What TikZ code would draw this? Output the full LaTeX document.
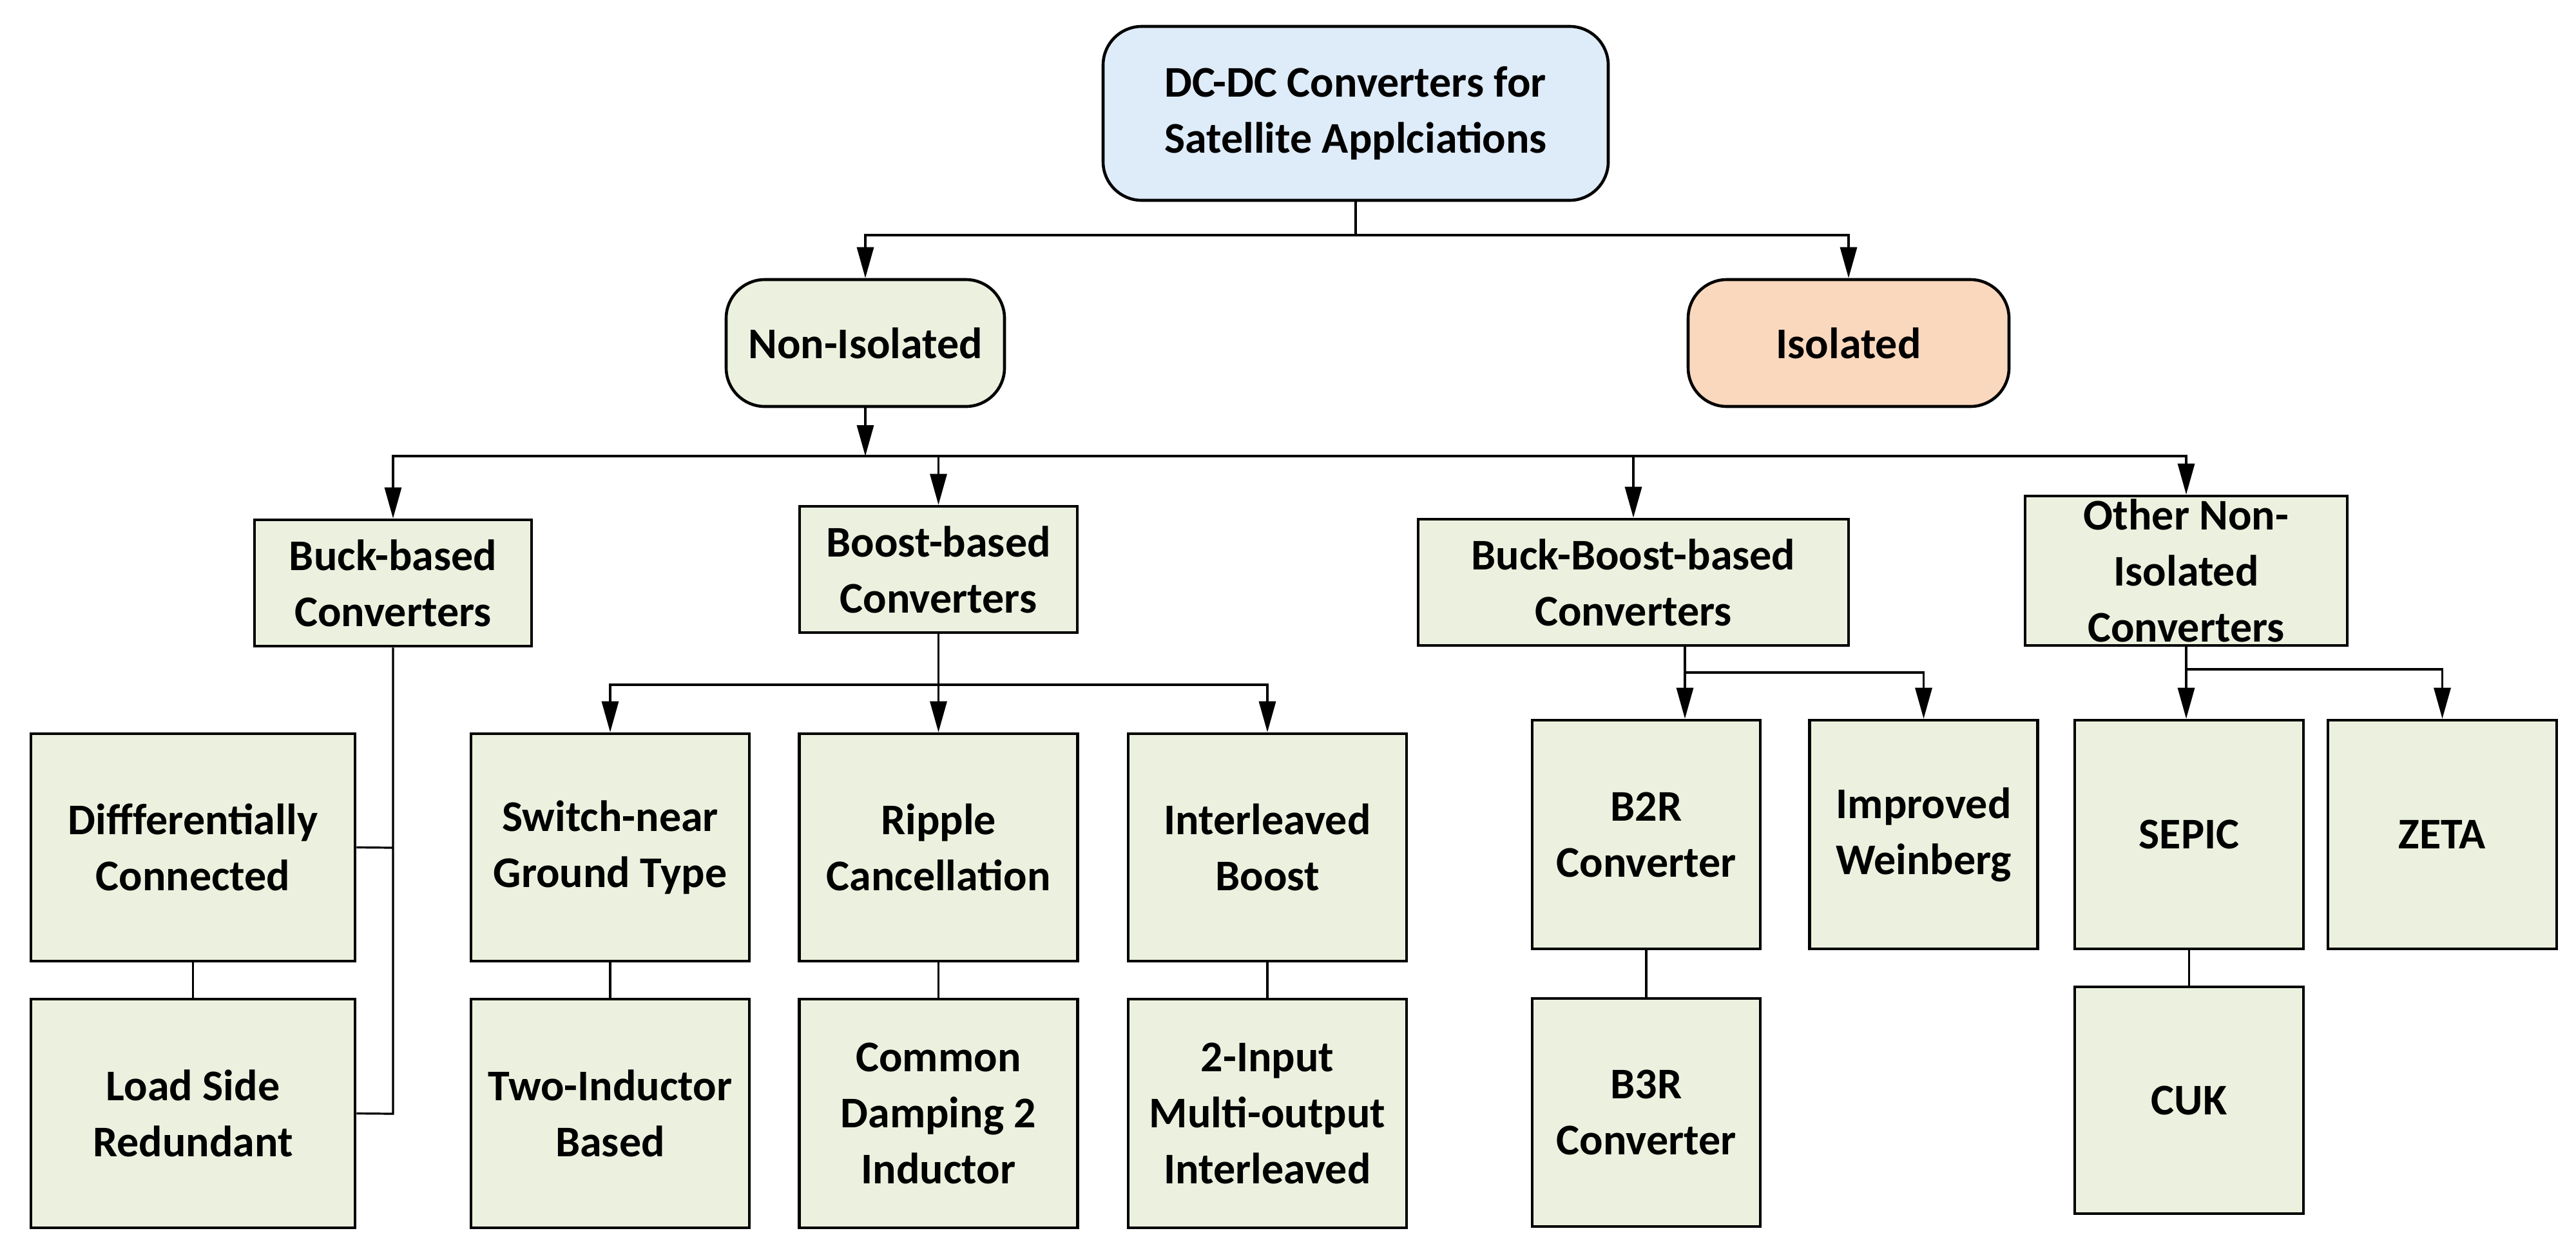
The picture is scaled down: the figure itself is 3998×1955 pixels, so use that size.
\documentclass[tikz,border=0pt]{standalone}
\usepackage{fontspec}
\setmainfont{Carlito}
\usetikzlibrary{arrows.meta}
\definecolor{gfill}{HTML}{EBF1DE}
\definecolor{bfill}{HTML}{DEEBF8}
\definecolor{pfill}{HTML}{FAD8BE}
\begin{document}
\begin{tikzpicture}[x=0.5pt,y=-0.5pt,
  box/.style={draw, line width=2.3pt, fill=gfill, align=center, inner sep=0pt,
    font=\fontsize{34}{43.5}\selectfont\bfseries},
  rbox/.style={box, rounded corners=30pt},
  con/.style={line width=1.6pt},
  arr/.style={con, -{Triangle[length=24pt,width=13pt]}}]
\useasboundingbox (0,0) rectangle (3998,1955);
% nodes
\node[rbox, fill=bfill, minimum width=392pt, minimum height=135pt] (root) at (2104,176) {DC-DC Converters for\\Satellite Applciations};
\node[rbox, minimum width=216pt, minimum height=98.5pt] (ni) at (1343,532.5) {Non-Isolated};
\node[rbox, fill=pfill, minimum width=249pt, minimum height=98.5pt] (iso) at (2869,532.5) {Isolated};
\node[box, minimum width=215pt, minimum height=98pt] (buck) at (610,905) {Buck-based\\Converters};
\node[box, minimum width=215.5pt, minimum height=98pt] (boost) at (1456.5,884) {Boost-based\\Converters};
\node[box, minimum width=334pt, minimum height=98pt] (bb) at (2535,904) {Buck-Boost-based\\Converters};
\node[box, minimum width=250pt, minimum height=116pt] (oth) at (3393,886) {Other Non-\\Isolated\\Converters};
\node[box, minimum width=251.5pt, minimum height=176.5pt] (diff) at (299.5,1315.5) {Diffferentially\\Connected};
\node[box, minimum width=251.5pt, minimum height=177.5pt] (load) at (299.5,1728.5) {Load Side\\Redundant};
\node[box, minimum width=216pt, minimum height=176.5pt] (sw) at (947,1315.5) {Switch-near\\Ground Type};
\node[box, minimum width=216pt, minimum height=176.5pt] (rip) at (1456.5,1315.5) {Ripple\\Cancellation};
\node[box, minimum width=216pt, minimum height=176.5pt] (il) at (1967,1315.5) {Interleaved\\Boost};
\node[box, minimum width=216pt, minimum height=177.5pt] (two) at (947,1728.5) {Two-Inductor\\Based};
\node[box, minimum width=216pt, minimum height=177.5pt] (cd) at (1456.5,1728.5) {Common\\Damping 2\\Inductor};
\node[box, minimum width=216pt, minimum height=177.5pt] (tin) at (1967,1728.5) {2-Input\\Multi-output\\Interleaved};
\node[box, minimum width=177pt, minimum height=177.5pt] (b2r) at (2555,1295.5) {B2R\\Converter};
\node[box, minimum width=177pt, minimum height=177.5pt] (imp) at (2985.5,1295.5) {Improved\\Weinberg};
\node[box, minimum width=177pt, minimum height=177pt] (b3r) at (2555,1727) {B3R\\Converter};
\node[box, minimum width=177.5pt, minimum height=177.5pt] (sep) at (3397.5,1295.5) {SEPIC};
\node[box, minimum width=177.5pt, minimum height=177.5pt] (zeta) at (3790.5,1295.5) {ZETA};
\node[box, minimum width=177.5pt, minimum height=176pt] (cuk) at (3397.5,1708) {CUK};
% bus coordinates
\coordinate (t0) at (2104,365);
\coordinate (nb) at (1343,708);
\coordinate (bs) at (1456.5,1063);
\coordinate (bbs) at (2615,1044);
\coordinate (os) at (3393,1039);
\coordinate (bk1) at (610,1316);
\coordinate (bk2) at (610,1729);
% connectors
\draw[con] (root.south) -- (t0);
\draw[arr] (t0) -| (ni.north);
\draw[arr] (t0) -| (iso.north);
\draw[arr] (ni.south) -- (nb);
\draw[arr] (nb) -| (buck.north);
\draw[arr] (nb) -| (boost.north);
\draw[arr] (nb) -| (bb.north);
\draw[arr] (nb) -| (oth.north);
\draw[con] (buck.south) -- (bk2) -- (load.east);
\draw[con] (diff.east) -- (bk1);
\draw[con] (diff.south) -- (load.north);
\draw[con] (boost.south) -- (bs);
\draw[arr] (bs) -| (sw.north);
\draw[arr] (bs) -- (rip.north);
\draw[arr] (bs) -| (il.north);
\draw[con] (sw.south) -- (two.north);
\draw[con] (rip.south) -- (cd.north);
\draw[con] (il.south) -- (tin.north);
\draw[con] (bb.south -| bbs) -- (bbs);
\draw[arr] (bbs) -- (b2r.north -| bbs);
\draw[arr] (bbs) -| (imp.north);
\draw[con] (b2r.south) -- (b3r.north);
\draw[con] (oth.south) -- (os);
\draw[arr] (os) -- (sep.north -| os);
\draw[arr] (os) -| (zeta.north);
\draw[con] (sep.south) -- (cuk.north);
\end{tikzpicture}
\end{document}
